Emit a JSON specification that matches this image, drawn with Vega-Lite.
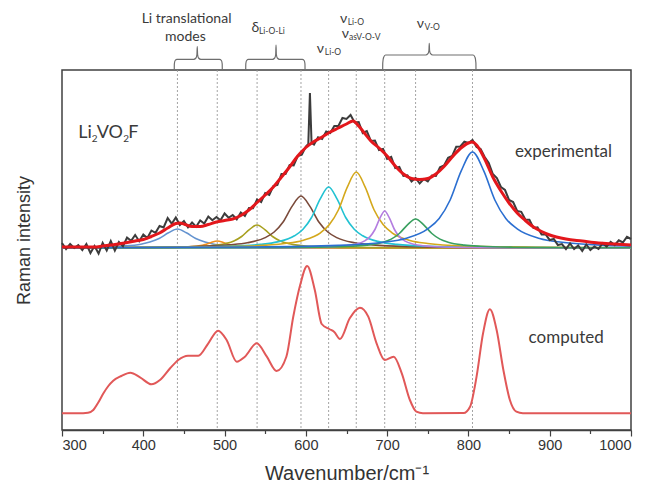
{
"$schema": "https://vega.github.io/schema/vega-lite/v6.json",
"width": 569, "height": 360,
"autosize": {"type": "none"},
"padding": {"left": 62, "top": 70, "right": 18, "bottom": 61},
"background": "white",
"config": {"view": {"stroke": "#404040", "strokeWidth": 1.5}},
"datasets": {
"vl": [{"x":442},{"x":491},{"x":540},{"x":594},{"x":628},{"x":662},{"x":697},{"x":735},{"x":805}],
"comp": [
{"s":"base","x":300,"y":182},{"s":"base","x":1000,"y":182},
{"s":"a","x":300,"y":182.5},{"s":"a","x":307,"y":182.5},{"s":"a","x":352,"y":183.1},{"s":"a","x":374.5,"y":183.9},{"s":"a","x":397,"y":185.8},{"s":"a","x":408,"y":187.9},{"s":"a","x":419.5,"y":191.5},{"s":"a","x":431,"y":197.2},{"s":"a","x":442,"y":201},{"s":"a","x":453,"y":197.2},{"s":"a","x":464.5,"y":191.5},{"s":"a","x":476,"y":187.9},{"s":"a","x":487,"y":185.8},{"s":"a","x":509.5,"y":183.9},{"s":"a","x":532,"y":183.1},{"s":"a","x":577,"y":182.5},{"s":"a","x":667,"y":182.2},{"s":"a","x":1000,"y":182},
{"s":"b","x":300,"y":182.05},{"s":"b","x":341,"y":182.1},{"s":"b","x":401,"y":182.2},{"s":"b","x":431,"y":182.4},{"s":"b","x":446,"y":182.7},{"s":"b","x":461,"y":183.4},{"s":"b","x":468.5,"y":184.2},{"s":"b","x":476,"y":185.5},{"s":"b","x":483.5,"y":187.6},{"s":"b","x":491,"y":189},{"s":"b","x":498.5,"y":187.6},{"s":"b","x":506,"y":185.5},{"s":"b","x":513.5,"y":184.2},{"s":"b","x":521,"y":183.4},{"s":"b","x":536,"y":182.7},{"s":"b","x":551,"y":182.4},{"s":"b","x":581,"y":182.2},{"s":"b","x":641,"y":182.1},{"s":"b","x":1000,"y":182},
{"s":"c","x":300,"y":182.1},{"s":"c","x":350,"y":182.2},{"s":"c","x":426,"y":182.6},{"s":"c","x":464,"y":183.4},{"s":"c","x":483,"y":184.3},{"s":"c","x":502,"y":186.6},{"s":"c","x":511.5,"y":189.1},{"s":"c","x":521,"y":193.5},{"s":"c","x":530.5,"y":200.4},{"s":"c","x":540,"y":205},{"s":"c","x":549.5,"y":200.4},{"s":"c","x":559,"y":193.5},{"s":"c","x":568.5,"y":189.1},{"s":"c","x":578,"y":186.6},{"s":"c","x":597,"y":184.3},{"s":"c","x":616,"y":183.4},{"s":"c","x":654,"y":182.6},{"s":"c","x":730,"y":182.2},{"s":"c","x":1000,"y":182},
{"s":"d","x":300,"y":182.3},{"s":"d","x":374,"y":182.5},{"s":"d","x":462,"y":183.4},{"s":"d","x":506,"y":185.1},{"s":"d","x":528,"y":187.2},{"s":"d","x":550,"y":192.4},{"s":"d","x":561,"y":198},{"s":"d","x":572,"y":208},{"s":"d","x":583,"y":223.6},{"s":"d","x":594,"y":234},{"s":"d","x":605,"y":223.6},{"s":"d","x":616,"y":208},{"s":"d","x":627,"y":198},{"s":"d","x":638,"y":192.4},{"s":"d","x":660,"y":187.2},{"s":"d","x":682,"y":185.1},{"s":"d","x":726,"y":183.4},{"s":"d","x":814,"y":182.5},{"s":"d","x":1000,"y":182.2},
{"s":"e","x":300,"y":182.3},{"s":"e","x":418,"y":182.6},{"s":"e","x":502,"y":183.7},{"s":"e","x":544,"y":185.6},{"s":"e","x":565,"y":188.1},{"s":"e","x":586,"y":194.2},{"s":"e","x":596.5,"y":200.8},{"s":"e","x":607,"y":212.5},{"s":"e","x":617.5,"y":230.8},{"s":"e","x":628,"y":243},{"s":"e","x":638.5,"y":230.8},{"s":"e","x":649,"y":212.5},{"s":"e","x":659.5,"y":200.8},{"s":"e","x":670,"y":194.2},{"s":"e","x":691,"y":188.1},{"s":"e","x":712,"y":185.6},{"s":"e","x":754,"y":183.7},{"s":"e","x":838,"y":182.6},{"s":"e","x":1000,"y":182.2},
{"s":"f","x":300,"y":182.3},{"s":"f","x":442,"y":182.8},{"s":"f","x":530,"y":184},{"s":"f","x":574,"y":186.5},{"s":"f","x":596,"y":189.6},{"s":"f","x":618,"y":197.2},{"s":"f","x":629,"y":205.4},{"s":"f","x":640,"y":220},{"s":"f","x":651,"y":242.8},{"s":"f","x":662,"y":258},{"s":"f","x":673,"y":242.8},{"s":"f","x":684,"y":220},{"s":"f","x":695,"y":205.4},{"s":"f","x":706,"y":197.2},{"s":"f","x":728,"y":189.6},{"s":"f","x":750,"y":186.5},{"s":"f","x":794,"y":184},{"s":"f","x":882,"y":182.8},{"s":"f","x":1000,"y":182.3},
{"s":"g","x":300,"y":182},{"s":"g","x":577,"y":182.4},{"s":"g","x":625,"y":183},{"s":"g","x":649,"y":184.2},{"s":"g","x":661,"y":185.7},{"s":"g","x":673,"y":189.4},{"s":"g","x":679,"y":193.4},{"s":"g","x":685,"y":200.5},{"s":"g","x":691,"y":211.6},{"s":"g","x":697,"y":219},{"s":"g","x":703,"y":211.6},{"s":"g","x":709,"y":200.5},{"s":"g","x":715,"y":193.4},{"s":"g","x":721,"y":189.4},{"s":"g","x":733,"y":185.7},{"s":"g","x":745,"y":184.2},{"s":"g","x":769,"y":183},{"s":"g","x":817,"y":182.4},{"s":"g","x":1000,"y":182.1},
{"s":"h","x":300,"y":182.1},{"s":"h","x":535,"y":182.3},{"s":"h","x":615,"y":182.8},{"s":"h","x":655,"y":183.7},{"s":"h","x":675,"y":184.9},{"s":"h","x":695,"y":187.8},{"s":"h","x":705,"y":190.9},{"s":"h","x":715,"y":196.5},{"s":"h","x":725,"y":205.2},{"s":"h","x":735,"y":211},{"s":"h","x":745,"y":205.2},{"s":"h","x":755,"y":196.5},{"s":"h","x":765,"y":190.9},{"s":"h","x":775,"y":187.8},{"s":"h","x":795,"y":184.9},{"s":"h","x":815,"y":183.7},{"s":"h","x":855,"y":182.8},{"s":"h","x":935,"y":182.3},{"s":"h","x":1000,"y":182.2},
{"s":"i","x":300,"y":182.3},{"s":"i","x":530,"y":183},{"s":"i","x":640,"y":184.6},{"s":"i","x":695,"y":187.7},{"s":"i","x":722.5,"y":191.6},{"s":"i","x":750,"y":201.2},{"s":"i","x":764,"y":211.5},{"s":"i","x":777.5,"y":230},{"s":"i","x":791,"y":258.8},{"s":"i","x":805,"y":278},{"s":"i","x":819,"y":258.8},{"s":"i","x":832.5,"y":230},{"s":"i","x":846,"y":211.5},{"s":"i","x":860,"y":201.2},{"s":"i","x":887.5,"y":191.6},{"s":"i","x":915,"y":187.7},{"s":"i","x":970,"y":184.6},{"s":"i","x":1000,"y":183.9}
],
"gray": [
{"x":300,"y":187},{"x":305,"y":181},{"x":310,"y":186},{"x":315,"y":182},{"x":320,"y":185},{"x":325,"y":180},{"x":330,"y":186},{"x":335,"y":177},{"x":340,"y":184},{"x":345,"y":176.5},{"x":350,"y":187},{"x":355,"y":179.5},{"x":360,"y":189},{"x":365,"y":179.5},{"x":370,"y":188},{"x":375,"y":183.8},{"x":380,"y":192.5},{"x":385,"y":189.2},{"x":390,"y":195},{"x":395,"y":188.8},{"x":400,"y":195.5},{"x":405,"y":192},{"x":410,"y":199.5},{"x":415,"y":197.2},{"x":420,"y":204},{"x":425,"y":202.5},{"x":430,"y":212},{"x":435,"y":206.3},{"x":440,"y":212.5},{"x":445,"y":205},{"x":450,"y":209},{"x":455,"y":202.7},{"x":460,"y":207.5},{"x":465,"y":203.3},{"x":470,"y":209.5},{"x":475,"y":206.5},{"x":480,"y":213.5},{"x":485,"y":209.8},{"x":490,"y":213},{"x":495,"y":209.7},{"x":500,"y":216.5},{"x":505,"y":212.2},{"x":510,"y":215},{"x":515,"y":210.7},{"x":520,"y":217.5},{"x":525,"y":214},{"x":530,"y":222},{"x":535,"y":221.7},{"x":540,"y":230.5},{"x":545,"y":228},{"x":550,"y":237},{"x":555,"y":235},{"x":560,"y":244},{"x":565,"y":245},{"x":570,"y":256},{"x":575,"y":256},{"x":580,"y":265},{"x":585,"y":264.5},{"x":590,"y":274},{"x":595,"y":275.3},{"x":600,"y":283.5},{"x":603,"y":286},{"x":605,"y":337},{"x":607,"y":287},{"x":610,"y":285.5},{"x":615,"y":292.7},{"x":620,"y":291},{"x":625,"y":298.5},{"x":630,"y":297},{"x":635,"y":304},{"x":640,"y":304},{"x":645,"y":312},{"x":650,"y":311},{"x":655,"y":315},{"x":660,"y":307.5},{"x":665,"y":308},{"x":670,"y":297},{"x":675,"y":299},{"x":680,"y":289},{"x":685,"y":289.5},{"x":690,"y":280},{"x":695,"y":281},{"x":700,"y":271},{"x":705,"y":273},{"x":710,"y":262},{"x":715,"y":263},{"x":720,"y":254},{"x":725,"y":254.7},{"x":730,"y":248.5},{"x":735,"y":252},{"x":740,"y":246.5},{"x":745,"y":251},{"x":750,"y":248.5},{"x":755,"y":254.5},{"x":760,"y":254},{"x":765,"y":262.7},{"x":770,"y":264.5},{"x":775,"y":272.2},{"x":780,"y":274},{"x":785,"y":283.2},{"x":790,"y":283.5},{"x":795,"y":288.3},{"x":800,"y":287},{"x":805,"y":290},{"x":810,"y":283},{"x":815,"y":281},{"x":820,"y":273},{"x":825,"y":267},{"x":830,"y":256},{"x":835,"y":252},{"x":840,"y":243},{"x":845,"y":240},{"x":850,"y":230},{"x":855,"y":228},{"x":860,"y":219},{"x":865,"y":218.2},{"x":870,"y":210.5},{"x":875,"y":210.2},{"x":880,"y":202},{"x":885,"y":202.7},{"x":890,"y":195.5},{"x":895,"y":195.7},{"x":900,"y":190},{"x":905,"y":191},{"x":910,"y":185},{"x":915,"y":186},{"x":920,"y":181},{"x":925,"y":186.5},{"x":930,"y":181},{"x":935,"y":184.5},{"x":940,"y":179},{"x":945,"y":185.5},{"x":950,"y":180},{"x":955,"y":183.5},{"x":960,"y":181},{"x":965,"y":186.7},{"x":970,"y":183.5},{"x":975,"y":188.2},{"x":980,"y":185},{"x":985,"y":189.7},{"x":990,"y":187.5},{"x":995,"y":193.2},{"x":1000,"y":191}
],
"fit": [
{"x":300,"y":183},{"x":340,"y":183},{"x":350,"y":184},{"x":360,"y":185},{"x":370,"y":186},{"x":380,"y":187.5},{"x":390,"y":189},{"x":400,"y":190.5},{"x":410,"y":193.5},{"x":420,"y":197},{"x":430,"y":202},{"x":440,"y":206.5},{"x":445,"y":207},{"x":450,"y":206},{"x":460,"y":203.5},{"x":470,"y":203.5},{"x":480,"y":205.5},{"x":490,"y":208},{"x":500,"y":209.5},{"x":510,"y":211},{"x":520,"y":214.5},{"x":530,"y":220},{"x":540,"y":227.5},{"x":550,"y":235},{"x":560,"y":243},{"x":570,"y":253},{"x":580,"y":263},{"x":590,"y":274},{"x":600,"y":282.5},{"x":610,"y":288.5},{"x":620,"y":293},{"x":630,"y":298},{"x":640,"y":302},{"x":650,"y":306},{"x":658,"y":309},{"x":665,"y":304},{"x":670,"y":299},{"x":680,"y":289},{"x":690,"y":282},{"x":700,"y":274},{"x":710,"y":264},{"x":720,"y":256},{"x":730,"y":251.5},{"x":740,"y":250.5},{"x":750,"y":251.5},{"x":760,"y":256},{"x":770,"y":263.5},{"x":780,"y":273},{"x":790,"y":281.5},{"x":800,"y":287},{"x":805,"y":288},{"x":810,"y":285},{"x":820,"y":271},{"x":830,"y":253},{"x":840,"y":239},{"x":850,"y":227},{"x":860,"y":217},{"x":870,"y":209.5},{"x":880,"y":203},{"x":890,"y":198.5},{"x":900,"y":195},{"x":920,"y":191},{"x":940,"y":189},{"x":960,"y":187},{"x":980,"y":186},{"x":1000,"y":185}
],
"calc": [
{"x":300,"y":16.7},{"x":320,"y":16.7},{"x":332,"y":17.3},{"x":338.5,"y":20},{"x":345,"y":28},{"x":351,"y":36.7},{"x":357,"y":44},{"x":363,"y":49.3},{"x":373,"y":54},{"x":384,"y":57.3},{"x":396,"y":52.7},{"x":410,"y":45.7},{"x":420.5,"y":50},{"x":433,"y":61.7},{"x":443,"y":70},{"x":455,"y":74.3},{"x":467.7,"y":74.3},{"x":480,"y":86.7},{"x":492,"y":99.3},{"x":502.5,"y":90},{"x":515,"y":68.3},{"x":525,"y":73.3},{"x":539.5,"y":86.7},{"x":552,"y":73.3},{"x":564,"y":59},{"x":576,"y":73.3},{"x":584.5,"y":113.3},{"x":593,"y":145},{"x":601.6,"y":164},{"x":611,"y":140},{"x":619.5,"y":106},{"x":628.8,"y":101},{"x":635,"y":98},{"x":642,"y":91},{"x":654,"y":111.7},{"x":666.5,"y":122.3},{"x":676.8,"y":113.3},{"x":687,"y":86.7},{"x":697,"y":70},{"x":708,"y":73.3},{"x":718,"y":56.7},{"x":728,"y":30},{"x":736,"y":18.3},{"x":744,"y":16.7},{"x":794,"y":17},{"x":802,"y":23.3},{"x":810,"y":53.3},{"x":818,"y":96.7},{"x":826.4,"y":120.7},{"x":834.7,"y":100},{"x":843,"y":60},{"x":851,"y":30},{"x":859,"y":18.3},{"x":867,"y":16.7},{"x":1000,"y":16.7}
],
"br": [
{"b":"Li","x":438.1,"y":360},{"b":"Li","x":438.2,"y":366},{"b":"Li","x":439.2,"y":369.5},{"b":"Li","x":441.5,"y":370.7},{"b":"Li","x":462,"y":370.7},{"b":"Li","x":464.8,"y":372},{"b":"Li","x":466,"y":375.5},{"b":"Li","x":466.4,"y":383.3},{"b":"Li","x":466.8,"y":375.5},{"b":"Li","x":468,"y":372},{"b":"Li","x":470.8,"y":370.7},{"b":"Li","x":493.8,"y":370.7},{"b":"Li","x":496.1,"y":369.5},{"b":"Li","x":497.1,"y":366},{"b":"Li","x":497.2,"y":360},
{"b":"d","x":526,"y":360},{"b":"d","x":526.1,"y":366},{"b":"d","x":527.1,"y":369.5},{"b":"d","x":529.4,"y":370.7},{"b":"d","x":559,"y":370.7},{"b":"d","x":561.7,"y":372},{"b":"d","x":562.9,"y":375.5},{"b":"d","x":563.3,"y":385},{"b":"d","x":563.7,"y":375.5},{"b":"d","x":564.9,"y":372},{"b":"d","x":567.6,"y":370.7},{"b":"d","x":595.6,"y":370.7},{"b":"d","x":597.9,"y":369.5},{"b":"d","x":598.9,"y":366},{"b":"d","x":599,"y":360},
{"b":"v","x":694.5,"y":360},{"b":"v","x":694.6,"y":367},{"b":"v","x":695.6,"y":372.5},{"b":"v","x":698,"y":375},{"b":"v","x":747.5,"y":375},{"b":"v","x":750.2,"y":376.3},{"b":"v","x":751.4,"y":379.5},{"b":"v","x":751.8,"y":386.7},{"b":"v","x":752.2,"y":379.5},{"b":"v","x":753.4,"y":376.3},{"b":"v","x":756.1,"y":375},{"b":"v","x":805.8,"y":375},{"b":"v","x":808.2,"y":372.5},{"b":"v","x":809.2,"y":367},{"b":"v","x":809.3,"y":360}
],
"lab": [
{"x":398,"y":407,"t":"Li translational","f":14},
{"x":426.7,"y":389,"t":"modes","f":14},
{"x":533,"y":398.3,"t":"δ","f":14},
{"x":542.3,"y":396.5,"t":"Li-O-Li","f":8.5},
{"x":613.3,"y":377.5,"t":"ν","f":14},
{"x":623.3,"y":375.5,"t":"Li-O","f":8.5},
{"x":642,"y":407.5,"t":"ν","f":14},
{"x":651.5,"y":405.5,"t":"Li-O","f":8.5},
{"x":644.1,"y":392.5,"t":"ν","f":14},
{"x":653,"y":390.5,"t":"asV-O-V","f":8.5},
{"x":736.3,"y":402,"t":"ν","f":14},
{"x":745.9,"y":400,"t":"V-O","f":8.5},
{"x":320.05,"y":292,"t":"Li","f":18},
{"x":336.5,"y":288,"t":"2","f":10},
{"x":342.7,"y":292,"t":"VO","f":18},
{"x":375.4,"y":288,"t":"2","f":10},
{"x":381.6,"y":292,"t":"F","f":18},
{"x":857.3,"y":273.5,"t":"experimental","f":17},
{"x":874,"y":87.2,"t":"computed","f":17}
],
"ri": [{"x":254.5,"y":189.5,"t":"Raman intensity"}]
},
"encoding": {
"x": {"field": "x", "type": "quantitative",
 "scale": {"domain": [300, 1000], "nice": false, "zero": false},
 "axis": {"title": "Wavenumber/cm⁻¹", "values": [300,350,400,450,500,550,600,650,700,750,800,850,900,950,1000],
  "format": "d",
  "labelExpr": "datum.value % 100 === 0 ? datum.label : ''",
  "grid": false, "domain": true, "domainColor": "#404040", "domainWidth": 1.5,
  "tickColor": "#404040", "tickWidth": 1.2,
  "tickSize": {"condition": {"test": "datum.value % 100 === 0", "value": 6}, "value": 3.5},
  "labelFont": "Liberation Sans", "labelFontSize": 14.5, "labelColor": "#333333", "labelPadding": 2,
  "titleFont": "Liberation Sans", "titleFontSize": 20, "titleFontWeight": "normal", "titleColor": "#333333", "titlePadding": 12}}
},
"layer": [
{"data": {"name": "vl"}, "mark": {"type": "rule", "color": "#9a9a9a", "strokeDash": [2, 2], "strokeWidth": 0.9}, "encoding": {}},
{"data": {"name": "comp"}, "mark": {"type": "line", "strokeWidth": 1.6, "interpolate": "monotone"},
 "encoding": {"y": {"field": "y", "type": "quantitative", "scale": {"domain": [0, 360], "nice": false, "zero": false}, "axis": null},
  "color": {"field": "s", "type": "nominal", "legend": null,
   "scale": {"domain": ["base","a","b","c","d","e","f","g","h","i"], "range": ["#86aedb","#6594d0","#f0901e","#a8a020","#7a4a3a","#22c2d2","#d4a81c","#b47de0","#3aa060","#2b6fd1"]}}}},
{"data": {"name": "gray"}, "mark": {"type": "line", "color": "#3c3c3c", "strokeWidth": 2},
 "encoding": {"y": {"field": "y", "type": "quantitative", "axis": null}}},
{"data": {"name": "fit"}, "mark": {"type": "line", "color": "#e3171c", "strokeWidth": 3, "interpolate": "monotone"},
 "encoding": {"y": {"field": "y", "type": "quantitative", "axis": null}}},
{"data": {"name": "calc"}, "mark": {"type": "line", "color": "#e15858", "strokeWidth": 2, "interpolate": "monotone"},
 "encoding": {"y": {"field": "y", "type": "quantitative", "axis": null}}},
{"data": {"name": "br"}, "mark": {"type": "line", "color": "#6e6e6e", "strokeWidth": 1.2, "interpolate": "monotone"},
 "encoding": {"y": {"field": "y", "type": "quantitative", "axis": null}, "detail": {"field": "b"}}},
{"data": {"name": "lab"}, "mark": {"type": "text", "align": "left", "baseline": "alphabetic", "font": "Lato", "color": "#3a3a3a"},
 "encoding": {"y": {"field": "y", "type": "quantitative", "axis": null}, "text": {"field": "t"}, "size": {"field": "f", "type": "quantitative", "scale": null}}},
{"data": {"name": "ri"}, "mark": {"type": "text", "align": "center", "baseline": "middle", "angle": 270, "font": "Liberation Sans", "fontSize": 18, "color": "#333333"},
 "encoding": {"y": {"field": "y", "type": "quantitative", "axis": null}, "text": {"field": "t"}}}
]
}
